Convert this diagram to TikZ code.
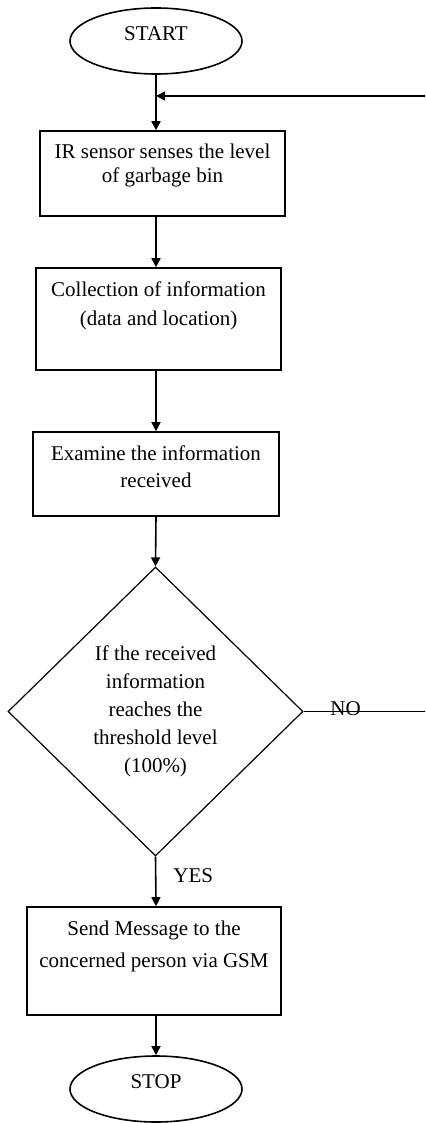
\documentclass[tikz,border=0pt]{standalone}
\usepackage{fontspec}
\setmainfont{Liberation Serif}
\usetikzlibrary{arrows.meta,positioning,shapes.geometric}
\newcommand{\boxtext}[3]{\parbox[c][#1][t]{#2}{\centering\rule{0pt}{14pt}#3}}

\tikzset{
  flow/.style={draw, line width=0.8pt, inner sep=0pt},
  term/.style={flow, ellipse, minimum width=86pt, minimum height=33pt, text depth=7.5pt},
  decision/.style={draw, line width=0.6pt, diamond, inner sep=0pt, minimum width=147.5pt, minimum height=144.5pt, align=center},
  link/.style={line width=0.8pt, -{Triangle[length=4.5pt,width=4.5pt]}}
}

\begin{document}
\begin{tikzpicture}[x=0.5pt, y=-0.5pt, font=\fontsize{10.5}{14}\selectfont]
\useasboundingbox (0,0) rectangle (425,1123);
\clip (0,0) rectangle (425,1123);
% steps
\node[term] (start) at (156,41) {START};
\node[flow] (sense) at (162.5,173.5) {\boxtext{42.5pt}{122.5pt}{IR sensor senses the level\\[-2pt] of garbage bin}};
\node[flow] (collect) at (158.5,319) {\boxtext{51pt}{122.5pt}{Collection of information\\[0.5pt] (data and location)}};
\node[flow] (examine) at (156,474) {\boxtext{42pt}{123pt}{Examine the information\\[-0.5pt] received}};
\node[decision] (check) at (155.5,711.5) {If the received\\ information\\ reaches the\\ threshold level\\ (100\%)};
\node[flow] (send) at (154,961) {\boxtext{54pt}{127pt}{Send Message to the\\[2pt] concerned person via GSM}};
\node[term] (stop) at (156,1089) {STOP};
% labels
\node[anchor=base west, inner sep=0pt] (yes) at (173,882) {YES};
\node[anchor=base west, inner sep=0pt] (no) at (330,715) {NO};
% connectors
\coordinate (join) at (156,96);
\coordinate (far) at (445,0);
\draw[line width=0.8pt] (start) -- (join);
\draw[link] (join) -- (join |- sense.north);
\draw[link] (start |- sense.south) -- (start |- collect.north);
\draw[link] (start |- collect.south) -- (start |- examine.north);
\draw[link] (start |- examine.south) -- (check.north);
\draw[link] (check.south) -- (start |- send.north);
\draw[link] (start |- send.south) -- (stop.north);
% NO branch goes back up
\draw[link] (check.east) -- (check.east -| far) -- (far |- join) -- (join);
\end{tikzpicture}
\end{document}
